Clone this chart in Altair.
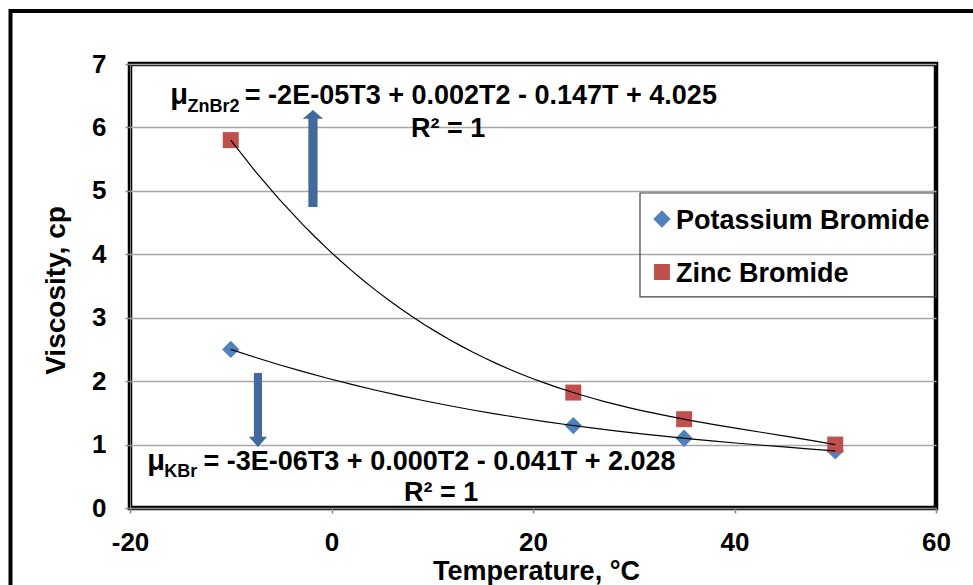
import altair as alt
import pandas as pd

# ---- data ----
series_names = ["Potassium Bromide", "Zinc Bromide"]
kbr_temp = [-10, 24, 35, 50]
kbr_visc = [2.5, 1.3, 1.1, 0.9]
znbr_temp = [-10, 24, 35, 50]
znbr_visc = [5.8, 1.82, 1.4, 1.0]
x_ticks = [-20, 0, 20, 40, 60]
y_ticks = [0, 1, 2, 3, 4, 5, 6, 7]

colors = ["#4F81BD", "#C0504D"]
shapes = ["diamond", "square"]
arrow_color = "#41699B"
FONT = "Liberation Sans"

znbr_eq = ["μ", "ZnBr2", "= -2E-05T3 + 0.002T2 - 0.147T + 4.025", "R² = 1"]
kbr_eq = ["μ", "KBr", "= -3E-06T3 + 0.000T2 - 0.041T + 2.028", "R² = 1"]

df = pd.DataFrame({
    "T": kbr_temp + znbr_temp,
    "V": kbr_visc + znbr_visc,
    "series": [series_names[0]] * len(kbr_temp) + [series_names[1]] * len(znbr_temp),
})

xscale = alt.Scale(domain=[-20, 60], nice=False, zero=False)
yscale = alt.Scale(domain=[0, 7], nice=False, zero=False)

xaxis = alt.Axis(
    values=x_ticks, labelExpr="'' + datum.value", title="Temperature, °C",
    labelFont=FONT, labelFontSize=26, labelFontWeight="bold", labelColor="black",
    labelPadding=16, labelFlush=False, tickColor="#868686", tickSize=5, tickWidth=1.5,
    domainColor="#868686", grid=False,
    titleFont=FONT, titleFontSize=27, titleFontWeight="bold", titleColor="black",
    titleX=406, titleY=63, titleBaseline="middle", titleAlign="center",
)
yaxis = alt.Axis(
    values=y_ticks, labelExpr="'' + datum.value", title="Viscosity, cp",
    labelFont=FONT, labelFontSize=26, labelFontWeight="bold", labelColor="black",
    labelPadding=19, labelFlush=False, tickColor="#868686", tickSize=5, tickWidth=1.5,
    domainColor="#868686", grid=True, gridColor="#A6A6A6", gridWidth=1.5,
    titleFont=FONT, titleFontSize=28, titleFontWeight="bold", titleColor="black",
    titleX=-74, titleY=226, titleAngle=-90, titleBaseline="middle", titleAlign="center",
)

# outer frame of the whole figure (decoration)
frame = alt.Chart(pd.DataFrame({"a": [0]})).mark_rect(
    fillOpacity=0, stroke="black", strokeWidth=4
).encode(
    x=alt.value(-119.5), x2=alt.value(900), y=alt.value(-53), y2=alt.value(600)
)

points = alt.Chart(df).mark_point(filled=True, opacity=1, strokeWidth=0).encode(
    x=alt.X("T:Q", scale=xscale, axis=xaxis),
    y=alt.Y("V:Q", scale=yscale, axis=yaxis),
    color=alt.Color("series:N", scale=alt.Scale(domain=series_names, range=colors), legend=None),
    shape=alt.Shape("series:N", scale=alt.Scale(domain=series_names, range=shapes), legend=None),
    size=alt.Size("series:N", scale=alt.Scale(domain=series_names, range=[300, 256]), legend=None),
)

trend = alt.Chart(df).transform_regression(
    "T", "V", groupby=["series"], method="poly", order=3, extent=[-10, 50]
).mark_line(color="black", strokeWidth=1.2).encode(
    x=alt.X("T:Q", scale=xscale),
    y=alt.Y("V:Q", scale=yscale),
    detail="series:N",
)

# annotation text (positions in data units)
ann = pd.DataFrame({
    "text": [znbr_eq[0], znbr_eq[1], znbr_eq[2], znbr_eq[3],
             kbr_eq[0], kbr_eq[1], kbr_eq[2], kbr_eq[3]],
    "T": [-16.0, -14.3, -8.6, 7.9, -18.3, -16.6, -12.7, 7.2],
    "V": [6.37, 6.25, 6.37, 5.85, 0.60, 0.49, 0.60, 0.11],
    "fs": [29, 18, 27, 27, 29, 18, 27, 27],
})
texts = alt.Chart(ann).mark_text(
    align="left", baseline="alphabetic", font=FONT, fontWeight="bold", color="black"
).encode(
    x=alt.X("T:Q", scale=xscale), y=alt.Y("V:Q", scale=yscale),
    text="text:N", size=alt.Size("fs:Q", scale=None),
)

# hand-drawn legend box
leg_box = alt.Chart(pd.DataFrame({"x": [30.62], "x2": [60], "y": [4.966], "y2": [3.327]})).mark_rect(
    fillOpacity=0, stroke="#404040", strokeWidth=1.2
).encode(x=alt.X("x:Q", scale=xscale), x2="x2", y=alt.Y("y:Q", scale=yscale), y2="y2")

leg = pd.DataFrame({
    "series": series_names,
    "T": [32.8, 32.8],
    "V": [4.556, 3.721],
    "Tt": [34.2, 34.2],
    "Vt": [4.40, 3.565],
})
leg_sym = alt.Chart(leg).mark_point(filled=True, opacity=1, strokeWidth=0).encode(
    x=alt.X("T:Q", scale=xscale), y=alt.Y("V:Q", scale=yscale),
    color=alt.Color("series:N", scale=alt.Scale(domain=series_names, range=colors), legend=None),
    shape=alt.Shape("series:N", scale=alt.Scale(domain=series_names, range=shapes), legend=None),
    size=alt.Size("series:N", scale=alt.Scale(domain=series_names, range=[250, 210]), legend=None),
)
leg_txt = alt.Chart(leg).mark_text(
    align="left", baseline="alphabetic", font=FONT, fontWeight="bold", fontSize=27, color="black"
).encode(x=alt.X("Tt:Q", scale=xscale), y=alt.Y("Vt:Q", scale=yscale), text="series:N")

# block arrows
up_path = "M0,-1L0.21,-0.82L0.095,-0.82L0.095,1L-0.095,1L-0.095,-0.82L-0.21,-0.82Z"
down_path = "M0,1L0.245,0.72L0.11,0.72L0.11,-1L-0.11,-1L-0.11,0.72L-0.245,0.72Z"
arrows_df = pd.DataFrame({"T": [-1.84, -7.3], "V": [5.51, 1.545], "shape": [up_path, down_path],
                          "sz": [97 * 97, 74 * 74]})
arrows = alt.Chart(arrows_df).mark_point(filled=True, opacity=1, strokeWidth=0, color=arrow_color).encode(
    x=alt.X("T:Q", scale=xscale), y=alt.Y("V:Q", scale=yscale),
    shape=alt.Shape("shape:N", scale=None), size=alt.Size("sz:Q", scale=None),
)

chart = alt.layer(frame, leg_box, points, trend, texts, leg_sym, leg_txt, arrows).properties(
    width=806, height=444,
    autosize=alt.AutoSizeParams(type="none"),
    padding={"left": 130, "top": 64, "right": 37, "bottom": 77},
    background="white",
).configure_view(stroke="black", strokeWidth=4.5)

chart.save("out.html", embed_options={"renderer": "svg", "actions": False})
